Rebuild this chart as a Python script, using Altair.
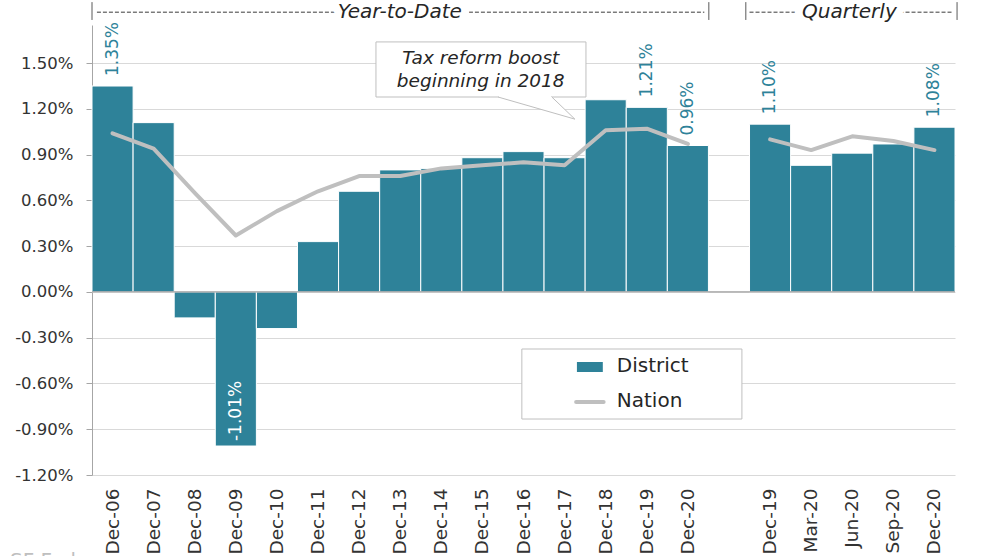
import altair as alt
import pandas as pd

# ---- values -------------------------------------------------------------
ytd_periods = ["Dec-06", "Dec-07", "Dec-08", "Dec-09", "Dec-10", "Dec-11", "Dec-12",
               "Dec-13", "Dec-14", "Dec-15", "Dec-16", "Dec-17", "Dec-18", "Dec-19", "Dec-20"]
ytd_district = [1.35, 1.11, -0.17, -1.01, -0.24, 0.33, 0.66, 0.80, 0.81, 0.88, 0.92, 0.88, 1.26, 1.21, 0.96]
ytd_nation = [1.04, 0.94, 0.65, 0.37, 0.53, 0.66, 0.76, 0.76, 0.81, 0.83, 0.85, 0.83, 1.06, 1.07, 0.97]
ytd_labelled = ["Dec-06", "Dec-09", "Dec-19", "Dec-20"]

qtr_periods = ["Dec-19", "Mar-20", "Jun-20", "Sep-20", "Dec-20"]
qtr_district = [1.10, 0.83, 0.91, 0.97, 1.08]
qtr_nation = [1.00, 0.93, 1.02, 0.99, 0.93]
qtr_labelled = ["Dec-19", "Dec-20"]

y_ticks = [-1.2, -0.9, -0.6, -0.3, 0.0, 0.3, 0.6, 0.9, 1.2, 1.5]

FONT = "DejaVu Sans"
TEAL = "#2E8299"
GRAY = "#BFBFBF"
INK = "#262626"

# ---- table: one band per period, an empty band separates the two blocks ---
rows = []
for i, (p, d, n) in enumerate(zip(ytd_periods, ytd_district, ytd_nation)):
    rows.append(dict(key="Y:" + p, period="ytd", idx=i, district=d, nation=n,
                     lab=f"{d:.2f}%" if p in ytd_labelled else ""))
for i, (p, d, n) in enumerate(zip(qtr_periods, qtr_district, qtr_nation)):
    rows.append(dict(key="Q:" + p, period="qtr", idx=i, district=d, nation=n,
                     lab=f"{d:.2f}%" if p in qtr_labelled else ""))
df = pd.DataFrame(rows)
keys = ["Y:" + p for p in ytd_periods] + ["G:"] + ["Q:" + p for p in qtr_periods]

xband = alt.Scale(domain=keys, paddingInner=0, paddingOuter=0)
yscale = alt.Scale(domain=[-1.2, 1.75], nice=False, zero=False)
slot = alt.Scale(domain=[0, 21], nice=False, zero=False)

x_axis = alt.Axis(labelExpr="slice(datum.value, 2)", labelAngle=270, labelAlign="right",
                  labelBaseline="middle", labelPadding=13, ticks=False, domain=False,
                  grid=False, title=None, labelFont=FONT, labelFontSize=18.5, labelColor="#333333")
y_axis = alt.Axis(values=y_ticks,
                  labelExpr="(datum.value < 0 ? '-' : '') + format(abs(datum.value), '.2f') + '%'",
                  tickSize=6, tickColor="#A6A6A6", domainColor="#A6A6A6", gridColor="#D9D9D9",
                  grid=True, labelPadding=13, labelFont=FONT, labelFontSize=16.5,
                  labelColor="#333333", title=None)


def XK():
    return alt.X("key:N", scale=xband, sort=keys, axis=x_axis, title=None)


def YV(f):
    return alt.Y(f, type="quantitative", scale=yscale, axis=y_axis, title=None)


bars = alt.Chart(df).mark_bar(color=TEAL, stroke="white", strokeWidth=1).encode(
    x=XK(), y=YV("district"),
)

nation_line = alt.Chart(df).mark_line(color=GRAY, strokeWidth=4, strokeCap="round",
                                      strokeJoin="round").encode(
    x=XK(), y=YV("nation"), detail="period:N", order="idx:Q",
)

pos_labels = alt.Chart(df).transform_filter("datum.lab != '' && datum.district > 0").mark_text(
    angle=270, align="left", baseline="middle", dx=10, font=FONT, fontSize=17, color=TEAL
).encode(x=XK(), y=YV("district"), text="lab:N")

neg_labels = alt.Chart(df).transform_filter("datum.lab != '' && datum.district < 0").mark_text(
    angle=270, align="left", baseline="middle", dx=5, font=FONT, fontSize=17, color="white"
).encode(x=XK(), y=YV("district"), text="lab:N")

data_layer = alt.layer(bars, nation_line, pos_labels, neg_labels)


# ---- annotations on a plain 0..21 slot scale -----------------------------
def X(f):
    return alt.X(f, type="quantitative", scale=slot, axis=None, title=None)


def Y(f):
    return YV(f)


zero_line = alt.Chart(pd.DataFrame({"x": [0], "x2": [21], "y": [0.0]})).mark_rule(
    color="#A0A0A0", strokeWidth=1.2).encode(x=X("x"), x2="x2", y=Y("y"))

brackets = alt.Chart(pd.DataFrame({"x": [0, 15.01, 15.91, 21.05],
                                   "y": [1.783] * 4, "y2": [1.90] * 4})).mark_rule(
    color="#595959", strokeWidth=1).encode(x=X("x"), y=Y("y"), y2="y2")

dashes = alt.Chart(pd.DataFrame({"x": [0.12, 16.0], "x2": [14.9, 20.95], "y": [1.834] * 2})).mark_rule(
    color="#3A3A3A", strokeWidth=1, strokeDash=[4, 2]).encode(x=X("x"), x2="x2", y=Y("y"))

header_df = pd.DataFrame({"x": [7.49, 18.43], "y": [1.838] * 2, "t": ["Year-to-Date", "Quarterly"]})
header_mask = alt.Chart(header_df).mark_text(
    font=FONT, fontSize=20, fontStyle="italic", color="white", stroke="white", strokeWidth=16,
    align="center", baseline="middle").encode(x=X("x"), y=Y("y"), text="t:N")
header_text = alt.Chart(header_df).mark_text(
    font=FONT, fontSize=20, fontStyle="italic", color=INK,
    align="center", baseline="middle").encode(x=X("x"), y=Y("y"), text="t:N")

callout_box = alt.Chart(pd.DataFrame({"x": [6.91], "x2": [12.02], "y": [1.639], "y2": [1.278]})).mark_rect(
    fill="white", stroke=GRAY, strokeWidth=1).encode(x=X("x"), x2="x2", y=Y("y"), y2="y2")
callout_tip = alt.Chart(pd.DataFrame({"y": [1.278, 1.133], "xa": [9.88, 11.75], "xb": [11.19, 11.75]})).mark_area(
    orient="horizontal", color="white").encode(y=Y("y"), x=X("xa"), x2="xb")
callout_gap = alt.Chart(pd.DataFrame({"x": [9.9], "x2": [11.17], "y": [1.278]})).mark_rule(
    color="white", strokeWidth=2.5).encode(x=X("x"), x2="x2", y=Y("y"))
callout_sides = alt.Chart(pd.DataFrame({"x": [9.88, 11.19], "x2": [11.75, 11.75],
                                        "y": [1.278, 1.278], "y2": [1.133, 1.133]})).mark_rule(
    color=GRAY, strokeWidth=1).encode(x=X("x"), x2="x2", y=Y("y"), y2="y2")
callout_text = alt.Chart(pd.DataFrame({"x": [9.46, 9.46], "y": [1.534, 1.38],
                                       "t": ["Tax reform boost", "beginning in 2018"]})).mark_text(
    font=FONT, fontSize=18.5, fontStyle="italic", color=INK, align="center", baseline="middle"
).encode(x=X("x"), y=Y("y"), text="t:N")

legend_box = alt.Chart(pd.DataFrame({"x": [10.46], "x2": [15.815], "y": [-0.374], "y2": [-0.833]})).mark_rect(
    fill="white", stroke=GRAY, strokeWidth=1).encode(x=X("x"), x2="x2", y=Y("y"), y2="y2")
legend_swatch = alt.Chart(pd.DataFrame({"x": [11.80], "x2": [12.43], "y": [-0.459], "y2": [-0.525]})).mark_rect(
    fill=TEAL).encode(x=X("x"), x2="x2", y=Y("y"), y2="y2")
legend_line = alt.Chart(pd.DataFrame({"x": [11.78], "x2": [12.45], "y": [-0.722]})).mark_rule(
    color=GRAY, strokeWidth=4, strokeCap="round").encode(x=X("x"), x2="x2", y=Y("y"))
legend_text = alt.Chart(pd.DataFrame({"x": [12.77, 12.77], "y": [-0.4846, -0.7154],
                                      "t": ["District", "Nation"]})).mark_text(
    font=FONT, fontSize=20, color=INK, align="left", baseline="middle"
).encode(x=X("x"), y=Y("y"), text="t:N")

source_text = alt.Chart(pd.DataFrame({"x": [-1.995], "y": [-1.804], "t": ["SF Fed"]})).mark_text(
    font=FONT, fontSize=20, color=GRAY, align="left", baseline="alphabetic"
).encode(x=X("x"), y=Y("y"), text="t:N")

anno_layer = alt.layer(zero_line, brackets, dashes, header_mask, header_text,
                       callout_box, callout_tip, callout_gap, callout_sides, callout_text,
                       legend_box, legend_swatch, legend_line, legend_text, source_text)

chart = alt.layer(data_layer, anno_layer).resolve_scale(x="independent").properties(
    width=863, height=450,
    autosize=alt.AutoSizeParams(type="none"),
    padding={"left": 92, "top": 25, "right": 46, "bottom": 81},
    background="white",
).configure_view(stroke=None)

chart.save("out.html", embed_options={"renderer": "svg", "actions": False})
